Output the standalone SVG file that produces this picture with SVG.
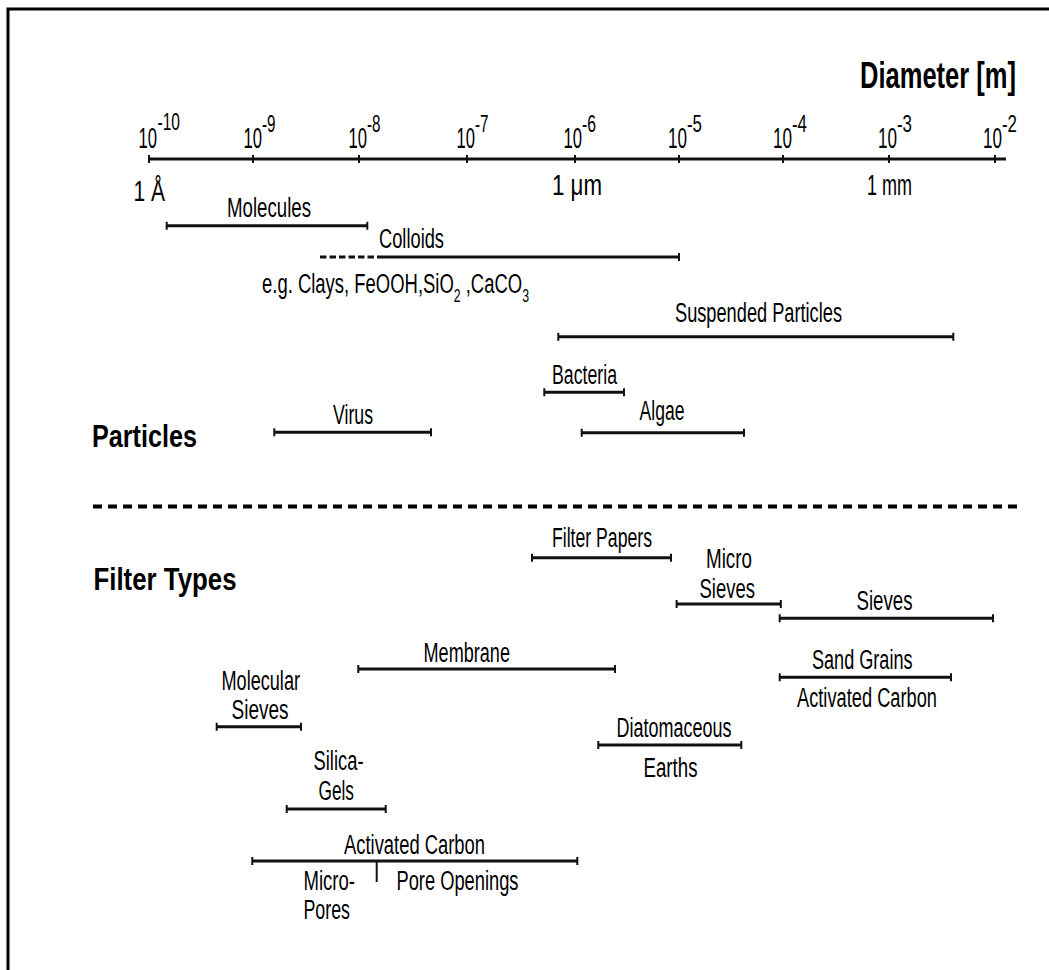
<svg xmlns="http://www.w3.org/2000/svg" width="1049" height="970" viewBox="0 0 1049 970">
<style>
.t{font-family:"Liberation Sans",Arial,sans-serif;font-size:27px;fill:#000}
.ax{font-family:"Liberation Sans",Arial,sans-serif;font-size:29px;fill:#000}
.sup{font-family:"Liberation Sans",Arial,sans-serif;font-size:24px;fill:#000}
.sub{font-size:18px}
.b{font-family:"Liberation Sans",Arial,sans-serif;font-size:31px;font-weight:bold;fill:#000}
.bar{stroke:#111;stroke-width:3;fill:none}
.tk{stroke:#111;stroke-width:2;fill:none}
</style>
<rect x="0" y="0" width="1049" height="970" fill="#fff"/>
<path d="M8 980 V9 H1060" fill="none" stroke="#000" stroke-width="3"/>

<g id="axis">
<text class="b" x="860" y="88" textLength="156" lengthAdjust="spacingAndGlyphs" style="font-size:37px">Diameter [m]</text>
<path class="bar" d="M148 159 H1006"/>
<path class="tk" d="M149 155 v8 M253 155 v8 M359 155 v8 M467 155 v8 M575 155 v8 M679 155 v8 M783 155 v8 M889 155 v8 M995 155 v8"/>
<text class="ax" x="138.5" y="148" textLength="18.5" lengthAdjust="spacingAndGlyphs">10</text>
<text class="sup" x="157.5" y="130" textLength="22.5" lengthAdjust="spacingAndGlyphs">-10</text>
<text class="ax" x="243.5" y="148" textLength="18.5" lengthAdjust="spacingAndGlyphs">10</text>
<text class="sup" x="262" y="132" textLength="13.5" lengthAdjust="spacingAndGlyphs">-9</text>
<text class="ax" x="348.5" y="148" textLength="18.5" lengthAdjust="spacingAndGlyphs">10</text>
<text class="sup" x="367" y="132" textLength="13.5" lengthAdjust="spacingAndGlyphs">-8</text>
<text class="ax" x="456.5" y="148" textLength="18.5" lengthAdjust="spacingAndGlyphs">10</text>
<text class="sup" x="475" y="132" textLength="13.5" lengthAdjust="spacingAndGlyphs">-7</text>
<text class="ax" x="563.5" y="148" textLength="18.5" lengthAdjust="spacingAndGlyphs">10</text>
<text class="sup" x="582" y="132" textLength="14" lengthAdjust="spacingAndGlyphs">-6</text>
<text class="ax" x="668" y="148" textLength="19" lengthAdjust="spacingAndGlyphs">10</text>
<text class="sup" x="687" y="132" textLength="15" lengthAdjust="spacingAndGlyphs">-5</text>
<text class="ax" x="773" y="148" textLength="19" lengthAdjust="spacingAndGlyphs">10</text>
<text class="sup" x="792" y="132" textLength="15" lengthAdjust="spacingAndGlyphs">-4</text>
<text class="ax" x="878" y="148" textLength="19" lengthAdjust="spacingAndGlyphs">10</text>
<text class="sup" x="897" y="132" textLength="15" lengthAdjust="spacingAndGlyphs">-3</text>
<text class="ax" x="983" y="148" textLength="19" lengthAdjust="spacingAndGlyphs">10</text>
<text class="sup" x="1002" y="132" textLength="15" lengthAdjust="spacingAndGlyphs">-2</text>
<text class="ax" x="133.5" y="201" textLength="31.5" lengthAdjust="spacingAndGlyphs">1 Å</text>
<text class="ax" x="552" y="195" textLength="50" lengthAdjust="spacingAndGlyphs">1 μm</text>
<text class="ax" x="867" y="195" textLength="45" lengthAdjust="spacingAndGlyphs">1 mm</text>
</g>

<g id="separator">
<path d="M93 506.5 H1022" stroke="#000" stroke-width="4" stroke-dasharray="9 6" fill="none"/>
</g>

<g id="particles-title"><text class="b" x="92" y="447" textLength="105" lengthAdjust="spacingAndGlyphs">Particles</text></g>
<g id="filter-title"><text class="b" x="93.5" y="590" textLength="143" lengthAdjust="spacingAndGlyphs">Filter Types</text></g>

<g id="connectors">
<path class="bar" d="M166.7 225.7 H367.3"/><path class="tk" d="M166.7 221.7 v8 M367.3 221.7 v8"/>
<path d="M320 257 H377" stroke="#111" stroke-width="3" stroke-dasharray="6.5 3" fill="none"/>
<path class="bar" d="M377 257 H679"/><path class="tk" d="M679 253 v8"/>
<path class="bar" d="M558.3 336.7 H953.3"/><path class="tk" d="M558.3 332.7 v8 M953.3 332.7 v8"/>
<path class="bar" d="M544.3 392.3 H624"/><path class="tk" d="M544.3 388.3 v8 M624 388.3 v8"/>
<path class="bar" d="M581.7 432.7 H744"/><path class="tk" d="M581.7 428.7 v8 M744 428.7 v8"/>
<path class="bar" d="M274.3 432.3 H431"/><path class="tk" d="M274.3 428.3 v8 M431 428.3 v8"/>
<path class="bar" d="M532 557.7 H671"/><path class="tk" d="M532 553.7 v8 M671 553.7 v8"/>
<path class="bar" d="M676.6 604 H780.8"/><path class="tk" d="M676.6 600 v8 M780.8 600 v8"/>
<path class="bar" d="M779.7 618.3 H993"/><path class="tk" d="M779.7 614.3 v8 M993 614.3 v8"/>
<path class="bar" d="M358.3 669 H615"/><path class="tk" d="M358.3 665 v8 M615 665 v8"/>
<path class="bar" d="M779.7 677.3 H951"/><path class="tk" d="M779.7 673.3 v8 M951 673.3 v8"/>
<path class="bar" d="M216.7 726.7 H301"/><path class="tk" d="M216.7 722.7 v8 M301 722.7 v8"/>
<path class="bar" d="M598.3 745 H741.3"/><path class="tk" d="M598.3 741 v8 M741.3 741 v8"/>
<path class="bar" d="M286.7 809 H385.7"/><path class="tk" d="M286.7 805 v8 M385.7 805 v8"/>
<path class="bar" d="M252.3 861 H577.3"/><path class="tk" d="M252.3 857 v8 M577.3 857 v8"/>
<path class="tk" d="M376.7 861 V882"/>
</g>

<g id="molecules"><text class="t" x="227" y="217" textLength="84" lengthAdjust="spacingAndGlyphs">Molecules</text></g>
<g id="colloids">
<text class="t" x="379" y="248" textLength="65" lengthAdjust="spacingAndGlyphs">Colloids</text>
<text class="t" x="262" y="293" textLength="267" lengthAdjust="spacingAndGlyphs">e.g. Clays, FeOOH,SiO<tspan class="sub" dy="9">2</tspan><tspan dy="-9"> ,CaCO</tspan><tspan class="sub" dy="9">3</tspan></text>
</g>
<g id="suspended"><text class="t" x="675" y="322" textLength="167" lengthAdjust="spacingAndGlyphs">Suspended Particles</text></g>
<g id="bacteria"><text class="t" x="552" y="384" textLength="65" lengthAdjust="spacingAndGlyphs">Bacteria</text></g>
<g id="algae"><text class="t" x="639.5" y="420" textLength="45" lengthAdjust="spacingAndGlyphs">Algae</text></g>
<g id="virus"><text class="t" x="333" y="424" textLength="40" lengthAdjust="spacingAndGlyphs">Virus</text></g>
<g id="filter-papers"><text class="t" x="552" y="547" textLength="100" lengthAdjust="spacingAndGlyphs">Filter Papers</text></g>
<g id="micro-sieves">
<text class="t" x="706" y="567.5" textLength="46" lengthAdjust="spacingAndGlyphs">Micro</text>
<text class="t" x="699.5" y="597.5" textLength="55.5" lengthAdjust="spacingAndGlyphs">Sieves</text>
</g>
<g id="sieves"><text class="t" x="856.5" y="610" textLength="56" lengthAdjust="spacingAndGlyphs">Sieves</text></g>
<g id="membrane"><text class="t" x="423.5" y="661.5" textLength="86.5" lengthAdjust="spacingAndGlyphs">Membrane</text></g>
<g id="sand-grains">
<text class="t" x="812" y="668.5" textLength="100.5" lengthAdjust="spacingAndGlyphs">Sand Grains</text>
<text class="t" x="797" y="706.5" textLength="140" lengthAdjust="spacingAndGlyphs">Activated Carbon</text>
</g>
<g id="molecular-sieves">
<text class="t" x="221.5" y="690" textLength="78.5" lengthAdjust="spacingAndGlyphs">Molecular</text>
<text class="t" x="231.5" y="718.5" textLength="57" lengthAdjust="spacingAndGlyphs">Sieves</text>
</g>
<g id="diatomaceous">
<text class="t" x="616.5" y="737" textLength="115" lengthAdjust="spacingAndGlyphs">Diatomaceous</text>
<text class="t" x="643.5" y="777" textLength="54" lengthAdjust="spacingAndGlyphs">Earths</text>
</g>
<g id="silica-gels">
<text class="t" x="313.5" y="770" textLength="50" lengthAdjust="spacingAndGlyphs">Silica-</text>
<text class="t" x="318.5" y="800" textLength="35.5" lengthAdjust="spacingAndGlyphs">Gels</text>
</g>
<g id="activated-carbon">
<text class="t" x="344" y="853.5" textLength="141" lengthAdjust="spacingAndGlyphs">Activated Carbon</text>
<text class="t" x="303.5" y="890" textLength="51.5" lengthAdjust="spacingAndGlyphs">Micro-</text>
<text class="t" x="303.5" y="918.5" textLength="46.5" lengthAdjust="spacingAndGlyphs">Pores</text>
<text class="t" x="396.5" y="890" textLength="122" lengthAdjust="spacingAndGlyphs">Pore Openings</text>
</g>
</svg>
